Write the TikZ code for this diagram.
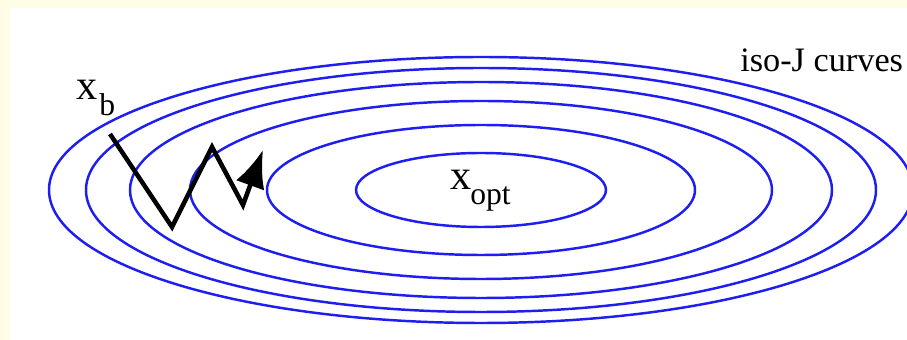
\documentclass[tikz,border=0pt]{standalone}
\usepackage{fontspec}
\setmainfont{Liberation Serif}
\usepackage{tikz}
\usetikzlibrary{arrows.meta}
\definecolor{creambg}{RGB}{255,253,230}
\definecolor{isoblue}{RGB}{30,30,240}

\begin{document}
\begin{tikzpicture}[x=0.02cm,y=-0.02cm,>=Latex]
\useasboundingbox (0,0) rectangle (907,340);
\fill[creambg] (0,0) rectangle (907,340);
\fill[white] (10,8) rectangle (907,340);
\clip (10,8) rectangle (907,340);
% iso-J curves around the optimum
\coordinate (opt) at (481,190);
\foreach \a/\b in {432/133,395/122,351/108,291/89,214/65,125/37}
  \draw[isoblue,line width=1.4pt] (opt) ellipse [x radius=\a, y radius=\b];
\node[anchor=base west,inner sep=0pt,font=\fontsize{24}{24}\selectfont] (xb) at (76,100) {x};
\node[anchor=base west,inner sep=0pt,font=\fontsize{18}{18}\selectfont] (xbsub) at (99,116) {b};
\node[anchor=base west,inner sep=0pt,font=\fontsize{24}{24}\selectfont] (xopt) at (450,190) {x};
\node[anchor=base west,inner sep=0pt,font=\fontsize{18}{18}\selectfont] (xoptsub) at (470,205) {opt};
\node[anchor=base west,inner sep=0pt,font=\fontsize{19.5}{20}\selectfont] (iso) at (740,72) {iso-J curves};
% descent path
\coordinate (p0) at (110,134);
\coordinate (p1) at (172,227);
\coordinate (p2) at (212,147);
\coordinate (p3) at (243,205);
\coordinate (p4) at (263,150);
\draw[line width=2.6pt,-{Latex[length=7.5mm,width=6mm]}] (p0)--(p1)--(p2)--(p3)--(p4);
\end{tikzpicture}
\end{document}
